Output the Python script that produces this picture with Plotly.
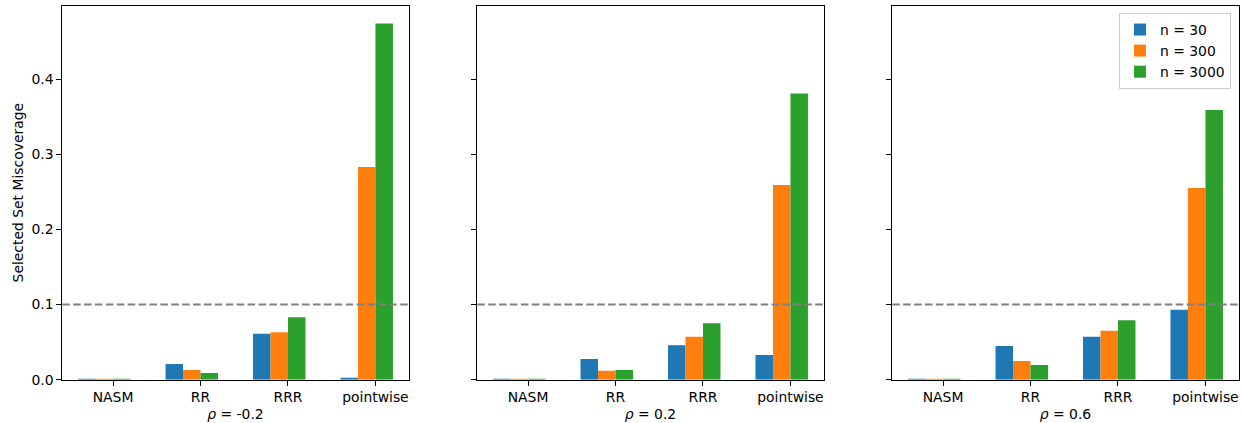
import plotly.graph_objects as go
from plotly.subplots import make_subplots

# Methods compared and correlation settings (one panel per rho)
methods = ["NASM", "RR", "RRR", "pointwise"]
rho_labels = ["-0.2", "0.2", "0.6"]
size_labels = ["n = 30", "n = 300", "n = 3000"]
colors = ["#1f77b4", "#ff7f0e", "#2ca02c"]
target_level = 0.1

# Selected-set miscoverage, rho = -0.2
rho_m02_n30 = [0.001, 0.021, 0.061, 0.002]
rho_m02_n300 = [0.001, 0.013, 0.063, 0.283]
rho_m02_n3000 = [0.001, 0.009, 0.083, 0.474]

# Selected-set miscoverage, rho = 0.2
rho_02_n30 = [0.001, 0.0275, 0.046, 0.033]
rho_02_n300 = [0.001, 0.012, 0.057, 0.259]
rho_02_n3000 = [0.001, 0.013, 0.075, 0.381]

# Selected-set miscoverage, rho = 0.6
rho_06_n30 = [0.001, 0.045, 0.057, 0.093]
rho_06_n300 = [0.001, 0.025, 0.065, 0.255]
rho_06_n3000 = [0.001, 0.0195, 0.079, 0.359]

panels = [
    [rho_m02_n30, rho_m02_n300, rho_m02_n3000],
    [rho_02_n30, rho_02_n300, rho_02_n3000],
    [rho_06_n30, rho_06_n300, rho_06_n3000],
]

W, H = 1242, 423
FONT = "DejaVu Sans, Arial, sans-serif"
FS = 13.9
bar_w = 0.2
offsets = [-0.3, -0.1, 0.1]

fig = make_subplots(rows=1, cols=3, shared_yaxes=False)

for p, series in enumerate(panels):
    for k, vals in enumerate(series):
        fig.add_trace(
            go.Bar(
                x=[i + offsets[k] for i in range(len(methods))],
                y=vals,
                width=bar_w,
                marker=dict(color=colors[k], line=dict(width=0)),
                name=size_labels[k],
                showlegend=(p == 2),
                legendrank=k,
            ),
            row=1, col=p + 1,
        )
    fig.add_hline(y=target_level, line=dict(color="#808080", width=2, dash="7.5px,3.4px"),
                  row=1, col=p + 1)

ymax = max(max(v) for s in panels for v in s) * 1.05
xlo, xhi = -0.4 - 0.18, 3.2 + 0.18

ydom = [1 - 379.7 / H, 1 - 5.7 / H]
left_edges = [62.3, 477.3, 892.3]
pw = 346.4

for p in range(3):
    ax = dict(
        domain=[left_edges[p] / W, (left_edges[p] + pw) / W],
        range=[xlo, xhi],
        color="black",
        tickmode="array",
        tickvals=list(range(len(methods))),
        ticktext=methods,
        ticks="outside", ticklen=5, tickwidth=1, tickcolor="black",
        showline=True, mirror=True, linecolor="black", linewidth=1,
        showgrid=False, zeroline=False, automargin=False,
        tickfont=dict(family=FONT, size=FS, color="black"),
        title=dict(text=f"<i>ρ</i> = {rho_labels[p]}", standoff=4,
                   font=dict(family=FONT, size=FS, color="black")),
    )
    ay = dict(
        domain=ydom,
        range=[0, ymax],
        color="black",
        tickmode="array",
        tickvals=[0, 0.1, 0.2, 0.3, 0.4],
        ticktext=["0.0", "0.1", "0.2", "0.3", "0.4"],
        showticklabels=(p == 0),
        ticks="outside", ticklen=5, tickwidth=1, tickcolor="black",
        showline=True, mirror=True, linecolor="black", linewidth=1,
        showgrid=False, zeroline=False, automargin=False,
        tickfont=dict(family=FONT, size=FS, color="black"),
    )
    if p == 0:
        ay["title"] = dict(text="Selected Set Miscoverage", standoff=4,
                           font=dict(family=FONT, size=FS, color="#000000"))
    suffix = "" if p == 0 else str(p + 1)
    fig.layout["xaxis" + suffix].update(ax)
    fig.layout["yaxis" + suffix].update(ay)

fig.update_layout(
    template="none",
    width=W, height=H,
    margin=dict(l=0, r=0, t=0, b=0),
    paper_bgcolor="white", plot_bgcolor="white",
    barmode="overlay",
    font=dict(family=FONT, size=FS, color="black"),
    legend=dict(
        x=1231 / W, xanchor="right", y=1 - 13 / H, yanchor="top",
        bordercolor="#cccccc", borderwidth=1, bgcolor="rgba(255,255,255,0.8)",
        font=dict(family=FONT, size=FS, color="black"),
        traceorder="normal",
    ),
)

fig.write_html("out.html")
